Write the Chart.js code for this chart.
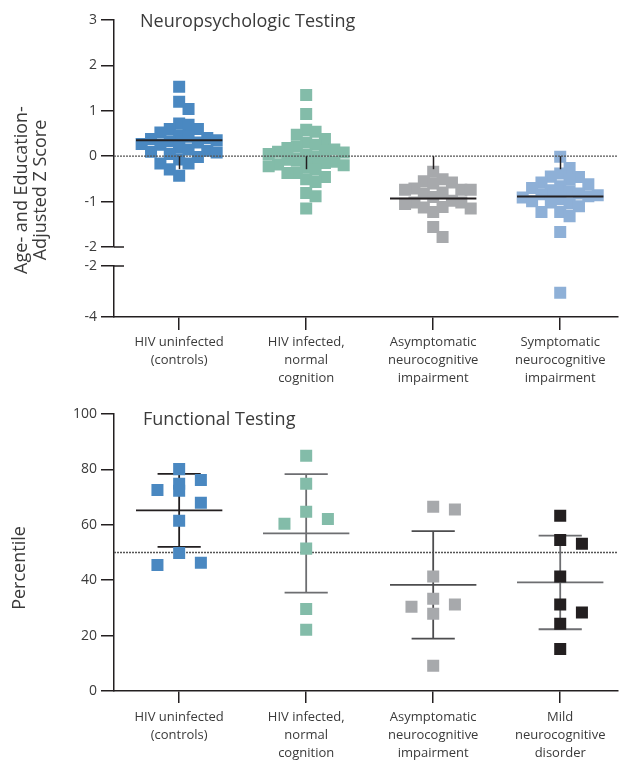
<!DOCTYPE html>
<html>
<head>
<meta charset="utf-8">
<script src="https://cdn.jsdelivr.net/npm/chart.js@4.4.0/dist/chart.umd.min.js"></script>
<style>
  html, body { margin: 0; padding: 0; background: #fff; }
  #wrap { position: relative; width: 626px; height: 777px; }
  .panel { position: absolute; left: 0; width: 626px; }
</style>
</head>
<body>
<div id="wrap">
  <div class="panel" style="top:0;height:395px"><canvas id="neuroChart"></canvas></div>
  <div class="panel" style="top:395px;height:382px"><canvas id="funcChart"></canvas></div>
</div>
<script>
// ---- Neuropsychologic Testing (age- and education-adjusted z scores) ----
const neuroGroups = [
  ['HIV uninfected', '(controls)'],
  ['HIV infected,', 'normal', 'cognition'],
  ['Asymptomatic', 'neurocognitive', 'impairment'],
  ['Symptomatic', 'neurocognitive', 'impairment']
];
const zUninfected = [1.53, 1.20, 1.04, 0.72, 0.69, 0.60, 0.60, 0.52, 0.46, 0.43, 0.40, 0.38, 0.35, 0.33, 0.30,
  0.27, 0.25, 0.22, 0.20, 0.15, 0.12, 0.10, 0.08, 0.05, -0.02, -0.07, -0.16, -0.16, -0.29, -0.43];
const zInfectedNormal = [1.35, 0.93, 0.58, 0.54, 0.47, 0.38, 0.30, 0.25, 0.21, 0.18, 0.15, 0.12, 0.10, 0.08, 0.05,
  0.03, 0.00, -0.02, -0.04, -0.06, -0.08, -0.10, -0.12, -0.15, -0.18, -0.20, -0.22, -0.25, -0.30, -0.37,
  -0.37, -0.46, -0.51, -0.57, -0.81, -0.88, -1.15];
const zAsymptomatic = [-0.34, -0.51, -0.55, -0.58, -0.60, -0.71, -0.74, -0.74, -0.74, -0.80, -0.82, -0.90,
  -0.98, -1.02, -1.02, -1.05, -1.12, -1.13, -1.15, -1.23, -1.56, -1.78];
const zSymptomatic = [-0.01, -0.26, -0.38, -0.45, -0.46, -0.52, -0.58, -0.62, -0.66, -0.70, -0.75, -0.78, -0.82,
  -0.84, -0.86, -0.88, -0.91, -0.91, -0.95, -0.99, -1.02, -1.04, -1.10, -1.23, -1.23, -1.32, -1.67, -3.05];
const zMeans = [0.35, null, -0.93, -0.89];
const zTicksUpper = [3, 2, 1, 0, -1, -2];
const zTicksLower = [-2, -3, -4];
const zBreak = -2;
const zReference = 0;

// ---- Functional Testing (percentiles) ----
const funcGroups = [
  ['HIV uninfected', '(controls)'],
  ['HIV infected,', 'normal', 'cognition'],
  ['Asymptomatic', 'neurocognitive', 'impairment'],
  ['Mild', 'neurocognitive', 'disorder']
];
const pctUninfected = [80.1, 76.2, 72.6, 74.8, 72.3, 68.0, 61.5, 49.8, 45.5, 46.3];
const pctInfectedNormal = [84.9, 74.8, 62.1, 64.7, 60.4, 51.4, 29.6, 22.1];
const pctAsymptomatic = [66.5, 65.5, 41.3, 33.3, 30.4, 31.2, 27.9, 9.1];
const pctMild = [63.3, 54.5, 53.2, 41.3, 31.2, 28.3, 24.3, 15.2];
const pctMeans = [65.2, 56.9, 38.3, 39.2];
const pctSD = [13.2, 21.4, 19.4, 16.9];
const pctTicks = [0, 20, 40, 60, 80, 100];
const pctReference = 50;

// ---- look ----
const ink = '#231f20';
const textCol = '#3a3a3a';
const FONT = "'Open Sans', sans-serif";
const neuroColors = ['#4a88c1', '#83bca9', '#a7a9ac', '#8eb0d7'];
const funcColors = ['#4a88c1', '#83bca9', '#a7a9ac', '#231f20'];
const barColors = ['#231f20', '#6d6e71', '#4d4d4f', '#6d6e71'];
const catPx = 128.7;          // approx pixels per category, used for the swarm spacing
const xMin = 0.487, xMax = 4.451;

// greedy beeswarm: horizontal offsets (category units) for each value
function swarm(values, unitPx, step, minDy, maxSlot) {
  const order = values.map((v, i) => i).sort((a, b) => values[b] - values[a]);
  const placed = [];
  const offs = new Array(values.length).fill(0);
  order.forEach(i => {
    const y = values[i] * unitPx;
    let best = 0, bestHits = Infinity;
    for (let k = 0; k <= 2 * maxSlot; k++) {
      const slot = k === 0 ? 0 : (k % 2 ? (k + 1) / 2 : -k / 2);
      const x = slot * step;
      const hits = placed.filter(p => Math.abs(p.x - x) < step * 0.9 && Math.abs(p.y - y) < minDy).length;
      if (hits === 0) { best = x; bestHits = 0; break; }
      if (hits < bestHits) { best = x; bestHits = hits; }
    }
    offs[i] = best / catPx;
    placed.push({ x: best, y });
  });
  return offs;
}

function squares(values, gi, color, offs, axisId, keep) {
  const data = [];
  values.forEach((v, k) => { if (keep(v)) data.push({ x: gi + 1 + offs[k], y: v }); });
  return {
    data, yAxisID: axisId, backgroundColor: color, pointStyle: 'rect',
    pointRadius: 8.5, pointBorderWidth: 0, order: 3
  };
}

// segments separated by gaps, drawn through the scales
function segLine(points, color, width, axisId, order, dash) {
  return {
    data: points, yAxisID: axisId, showLine: true, spanGaps: false, borderColor: color,
    borderWidth: width, borderDash: dash || [], pointRadius: 0, order
  };
}

const decor = {
  id: 'decor',
  afterDatasetsDraw(chart, args, o) {
    const { ctx, chartArea, scales } = chart;
    ctx.save();
    ctx.strokeStyle = ink;
    ctx.lineWidth = 1.5;
    if (o.refTicks) {
      const y0 = scales.y.getPixelForValue(o.refValue);
      o.refTicks.forEach(v => {
        const x = Math.round(scales.x.getPixelForValue(v)) + 0.5;
        ctx.beginPath(); ctx.moveTo(x, y0); ctx.lineTo(x, y0 + 13); ctx.stroke();
      });
    }
    if (o.breakAt !== undefined) {
      ['y', 'yLow'].forEach(id => {
        const y = scales[id].getPixelForValue(o.breakAt);
        ctx.beginPath(); ctx.moveTo(chartArea.left, y); ctx.lineTo(chartArea.left + 10, y); ctx.stroke();
      });
    }
    ctx.restore();
  },
  afterDraw(chart, args, o) {
    const { ctx } = chart;
    ctx.save();
    ctx.fillStyle = textCol;
    ctx.font = '18px ' + FONT;
    ctx.textBaseline = 'middle';
    ctx.fillText(o.title, o.titleX, o.titleY);
    ctx.translate(o.axisX, o.axisY);
    ctx.rotate(-Math.PI / 2);
    ctx.textAlign = 'center';
    o.axisTitle.forEach((line, i) => ctx.fillText(line, 0, i * 19));
    ctx.restore();
  }
};

const yTickStyle = { color: textCol, font: { family: FONT, size: 14 }, padding: 4 };
const yGrid = { drawOnChartArea: false, drawTicks: true, tickLength: 13, color: ink, lineWidth: 1.5 };
const yBorder = { display: true, color: ink, width: 1.5 };

function xScale(labels, tickLen, pad, height) {
  return {
    type: 'linear', min: xMin, max: xMax, position: 'bottom',
    afterBuildTicks: s => { s.ticks = [1, 2, 3, 4].map(v => ({ value: v })); },
    ticks: { callback: v => labels[v - 1], color: textCol, font: { family: FONT, size: 13, lineHeight: 1.4 },
      padding: pad, maxRotation: 0, autoSkip: false },
    grid: { drawOnChartArea: false, drawTicks: true, tickLength: tickLen, color: ink, lineWidth: 1.5 },
    border: { display: true, color: ink, width: 1.5 },
    afterFit: s => { s.height = height; }
  };
}

// ---------- top chart ----------
const neuroSeries = [zUninfected, zInfectedNormal, zAsymptomatic, zSymptomatic];
const neuroSets = [];
neuroSeries.forEach((vals, gi) => {
  const offs = swarm(vals, 45.3, 9.5, 11.5, 4);
  neuroSets.push(squares(vals, gi, neuroColors[gi], offs, 'y', v => v >= zBreak));
  const low = squares(vals, gi, neuroColors[gi], offs, 'yLow', v => v < zBreak);
  if (low.data.length) neuroSets.push(low);
});
const neuroMeanPts = [];
zMeans.forEach((m, gi) => {
  if (m === null) return;
  neuroMeanPts.push({ x: gi + 1 - 0.34, y: m }, { x: gi + 1 + 0.34, y: m }, { x: gi + 1, y: null });
});
neuroSets.push(segLine(neuroMeanPts, ink, 2, 'y', 1));
neuroSets.push(segLine([{ x: xMin, y: zReference }, { x: xMax, y: zReference }], '#555', 1.3, 'y', 0, [2, 1]));

new Chart(document.getElementById('neuroChart'), {
  type: 'scatter',
  data: { datasets: neuroSets },
  options: {
    responsive: true, maintainAspectRatio: false, animation: false, events: [],
    layout: { padding: { top: 20, right: 2, left: 0, bottom: 0 } },
    plugins: {
      legend: { display: false }, tooltip: { enabled: false },
      decor: {
        title: 'Neuropsychologic Testing', titleX: 140, titleY: 22,
        axisTitle: ['Age- and Education-', 'Adjusted Z Score'], axisX: 22, axisY: 190,
        refTicks: [1, 2, 3, 4], refValue: zReference, breakAt: zBreak
      }
    },
    scales: {
      x: xScale(neuroGroups, 13, 3, 78),
      y: {
        type: 'linear', position: 'left', stack: 'z', stackWeight: 227, weight: 3, min: zBreak, max: 3,
        afterBuildTicks: s => { s.ticks = zTicksUpper.map(v => ({ value: v })); },
        ticks: { ...yTickStyle, callback: v => String(v) },
        grid: yGrid, border: yBorder,
        afterFit: s => { s.width = 114; }
      },
      yGap: {
        type: 'linear', position: 'left', stack: 'z', stackWeight: 19, weight: 2, min: 0, max: 1,
        ticks: { display: false }, grid: { display: false }, border: { display: false },
        afterFit: s => { s.width = 114; }
      },
      yLow: {
        type: 'linear', position: 'left', stack: 'z', stackWeight: 51, weight: 1, min: -4, max: zBreak,
        afterBuildTicks: s => { s.ticks = zTicksLower.map(v => ({ value: v })); },
        ticks: { ...yTickStyle, callback: v => String(v) },
        grid: yGrid, border: yBorder,
        afterFit: s => { s.width = 114; }
      }
    }
  },
  plugins: [decor]
});

// ---------- bottom chart ----------
const funcSeries = [pctUninfected, pctInfectedNormal, pctAsymptomatic, pctMild];
const funcSets = [];
funcSeries.forEach((vals, gi) => {
  const offs = swarm(vals, 2.77, 22, 12.5, 1);
  funcSets.push(squares(vals, gi, funcColors[gi], offs, 'y', () => true));
});
pctMeans.forEach((m, gi) => {
  const c = gi + 1, s = pctSD[gi];
  const pts = [
    { x: c - 0.17, y: m + s }, { x: c + 0.17, y: m + s }, { x: c, y: null },
    { x: c, y: m + s }, { x: c, y: m - s }, { x: c, y: null },
    { x: c - 0.17, y: m - s }, { x: c + 0.17, y: m - s }, { x: c, y: null },
    { x: c - 0.34, y: m }, { x: c + 0.34, y: m }
  ];
  funcSets.push(segLine(pts, barColors[gi], 1.8, 'y', 5));
});
funcSets.push(segLine([{ x: xMin, y: pctReference }, { x: xMax, y: pctReference }], '#555', 1.3, 'y', 9, [2, 1]));

new Chart(document.getElementById('funcChart'), {
  type: 'scatter',
  data: { datasets: funcSets },
  options: {
    responsive: true, maintainAspectRatio: false, animation: false, events: [],
    layout: { padding: { top: 19, right: 2, left: 0, bottom: 0 } },
    plugins: {
      legend: { display: false }, tooltip: { enabled: false },
      decor: {
        title: 'Functional Testing', titleX: 143, titleY: 25,
        axisTitle: ['Percentile'], axisX: 20, axisY: 173
      }
    },
    scales: {
      x: xScale(funcGroups, 12, 5, 86),
      y: {
        type: 'linear', position: 'left', min: 0, max: 100,
        afterBuildTicks: s => { s.ticks = pctTicks.map(v => ({ value: v })); },
        ticks: { ...yTickStyle, callback: v => String(v) },
        grid: yGrid, border: yBorder,
        afterFit: s => { s.width = 114; }
      }
    }
  },
  plugins: [decor]
});
</script>
</body>
</html>
